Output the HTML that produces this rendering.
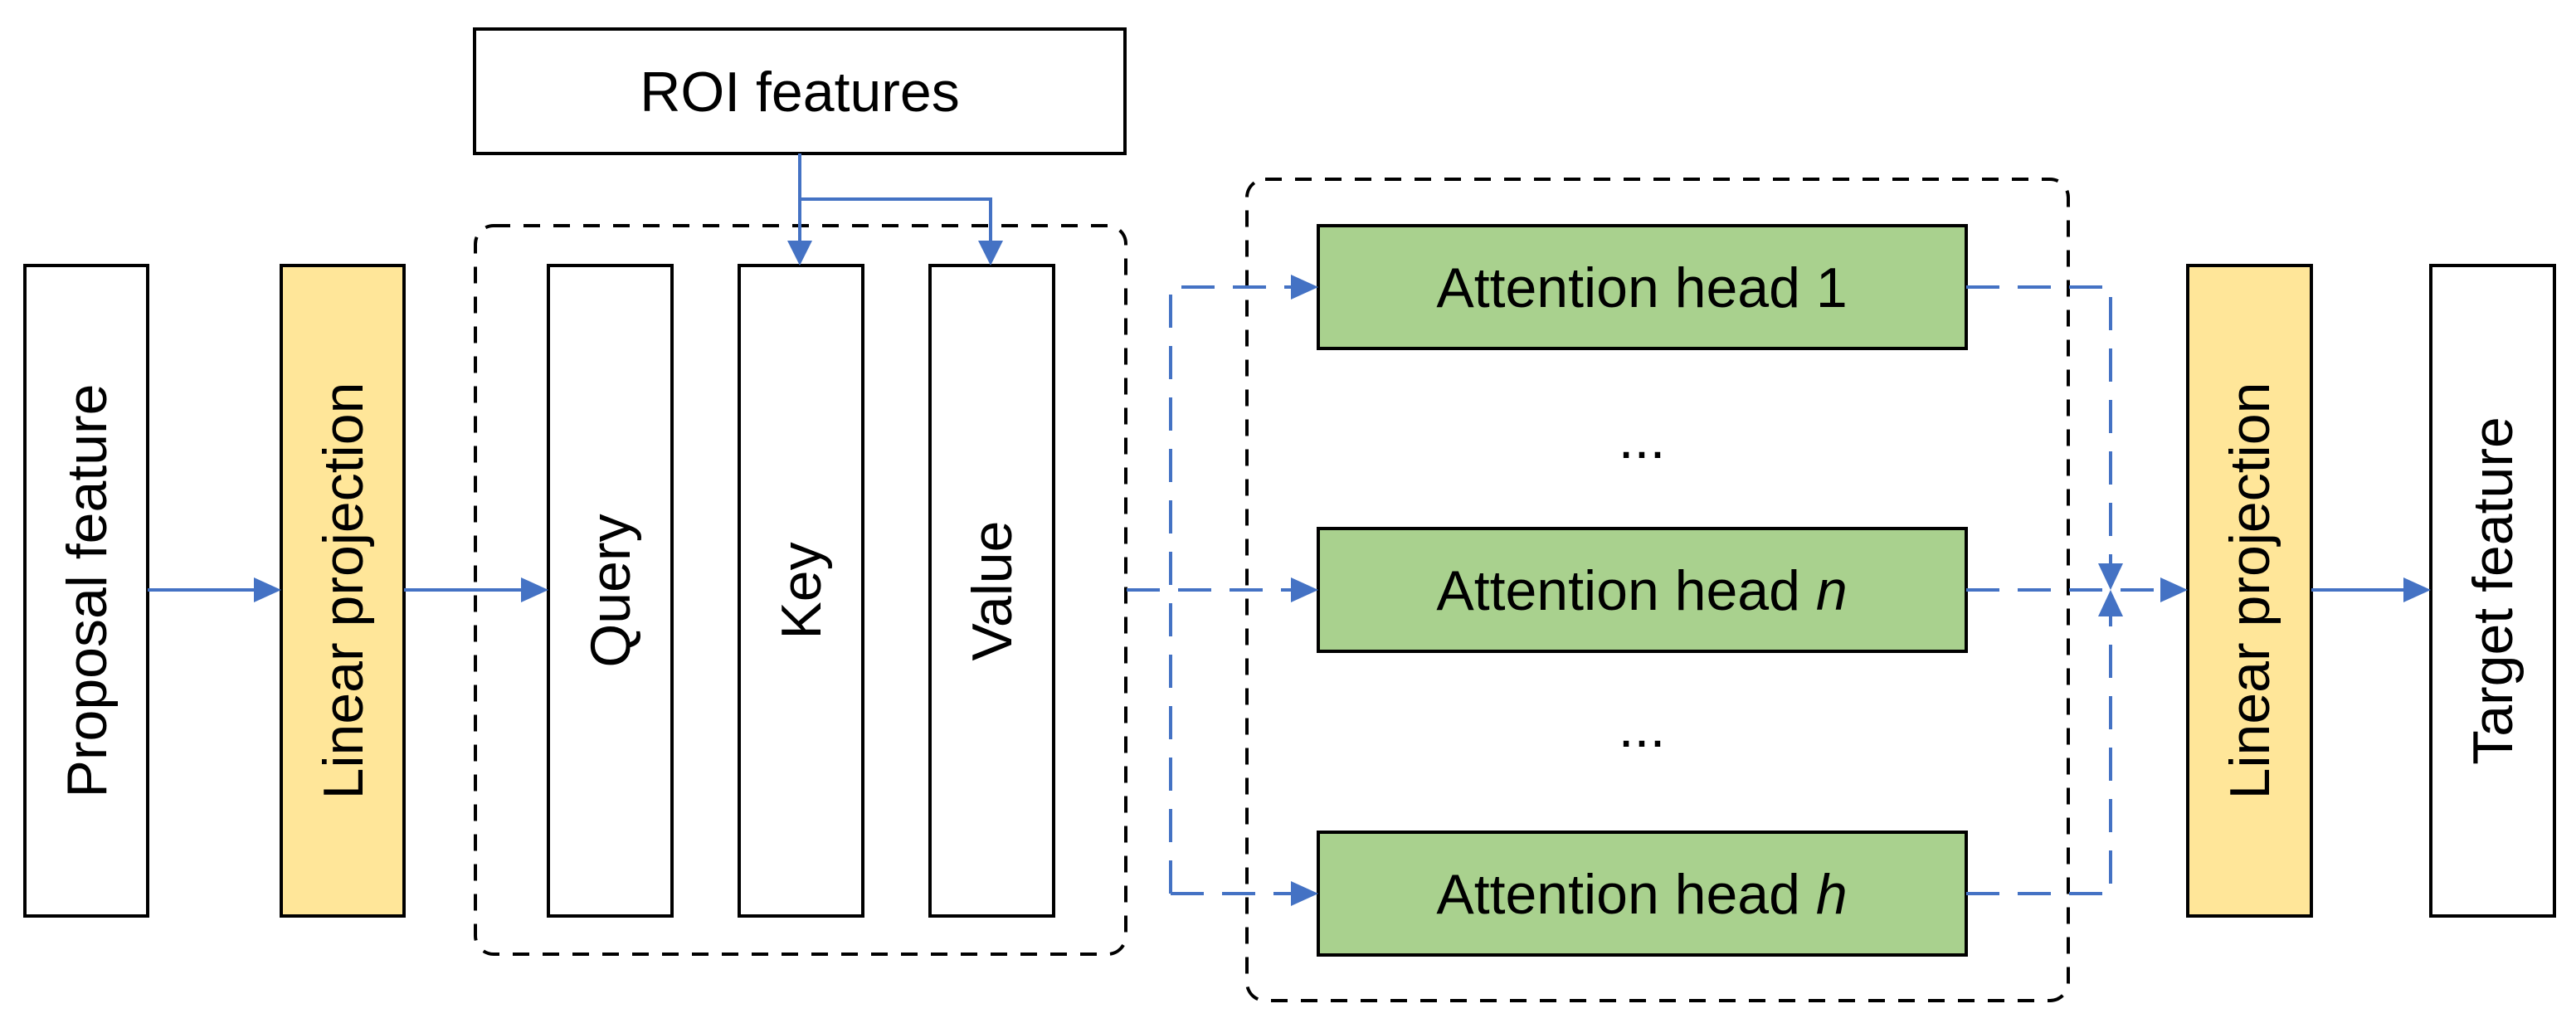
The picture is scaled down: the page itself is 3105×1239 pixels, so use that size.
<!DOCTYPE html>
<html><head><meta charset="utf-8"><style>html,body{margin:0;padding:0;background:#fff}svg{display:block}text{font-family:"Liberation Sans",sans-serif;font-size:68px;fill:#000}</style></head>
<body>
<svg width="3105" height="1239" viewBox="0 0 3105 1239" xmlns="http://www.w3.org/2000/svg">
<g fill="none" stroke="#000" stroke-width="4">
<rect x="30" y="320" width="148" height="784" fill="#fff"/>
<rect x="339" y="320" width="148" height="784" fill="#FFE699"/>
<rect x="572" y="35" width="784" height="150" fill="#fff"/>
<rect x="661" y="320" width="149" height="784" fill="#fff"/>
<rect x="891" y="320" width="149" height="784" fill="#fff"/>
<rect x="1121" y="320" width="149" height="784" fill="#fff"/>
<rect x="1589" y="272" width="781" height="148" fill="#A9D18E"/>
<rect x="1589" y="637" width="781" height="148" fill="#A9D18E"/>
<rect x="1589" y="1003" width="781" height="148" fill="#A9D18E"/>
<rect x="2637" y="320" width="149" height="784" fill="#FFE699"/>
<rect x="2930" y="320" width="149" height="784" fill="#fff"/>
<rect x="573" y="272" width="784" height="878" rx="22" stroke-dasharray="20,16"/>
<rect x="1503" y="216" width="990" height="990" rx="22" stroke-dasharray="20,16"/>
</g>
<g fill="#4472C4">
<path d="M964,185 V300" stroke="#4472C4" stroke-width="4"/>
<path d="M964,240 H1194 V300" stroke="#4472C4" stroke-width="4" fill="none"/>
<path d="M949,290 L979,290 L964,320 z"/><path d="M1179,290 L1209,290 L1194,320 z"/>
<path d="M178,711 H310" stroke="#4472C4" stroke-width="4"/><path d="M306,696 L339,711 L306,726 z"/>
<path d="M487,711 H630" stroke="#4472C4" stroke-width="4"/><path d="M628,696 L661,711 L628,726 z"/>
<path d="M2786,711 H2900" stroke="#4472C4" stroke-width="4"/><path d="M2897,696 L2930,711 L2897,726 z"/>
<path d="M1556,331 L1589,346 L1556,361 z"/><path d="M1556,696 L1589,711 L1556,726 z"/><path d="M1556,1062 L1589,1077 L1556,1092 z"/>
<path d="M2604,696 L2637,711 L2604,726 z"/>
<path d="M2529,679 L2559,679 L2544,711 z"/><path d="M2529,743 L2559,743 L2544,711 z"/>
</g>
<g fill="none" stroke="#4472C4" stroke-width="4" stroke-dasharray="40,22">
<path d="M1411,1077 V346 H1560"/>
<path d="M1358,711 H1560"/>
<path d="M1411,1077 H1560"/>
<path d="M2370,346 H2544 V684"/>
<path d="M2370,1077 H2544 V739"/>
<path d="M2370,711 H2610"/>
</g>
<text x="964" y="134" text-anchor="middle">ROI features</text>
<text x="1979" y="370" text-anchor="middle">Attention head 1</text>
<text x="1979" y="735" text-anchor="middle">Attention head <tspan font-style="italic">n</tspan></text>
<text x="1979" y="1101" text-anchor="middle">Attention head <tspan font-style="italic">h</tspan></text>
<text x="1979" y="552" text-anchor="middle">...</text>
<text x="1979" y="900" text-anchor="middle">...</text>
<text transform="translate(128,712) rotate(-90)" text-anchor="middle">Proposal feature</text>
<text transform="translate(437,712) rotate(-90)" text-anchor="middle">Linear projection</text>
<text transform="translate(759,712) rotate(-90)" text-anchor="middle">Query</text>
<text transform="translate(989,712) rotate(-90)" text-anchor="middle">Key</text>
<text transform="translate(1219,712) rotate(-90)" text-anchor="middle">Value</text>
<text transform="translate(2735,712) rotate(-90)" text-anchor="middle">Linear projection</text>
<text transform="translate(3028,712) rotate(-90)" text-anchor="middle">Target feature</text>
</svg>
</body></html>
